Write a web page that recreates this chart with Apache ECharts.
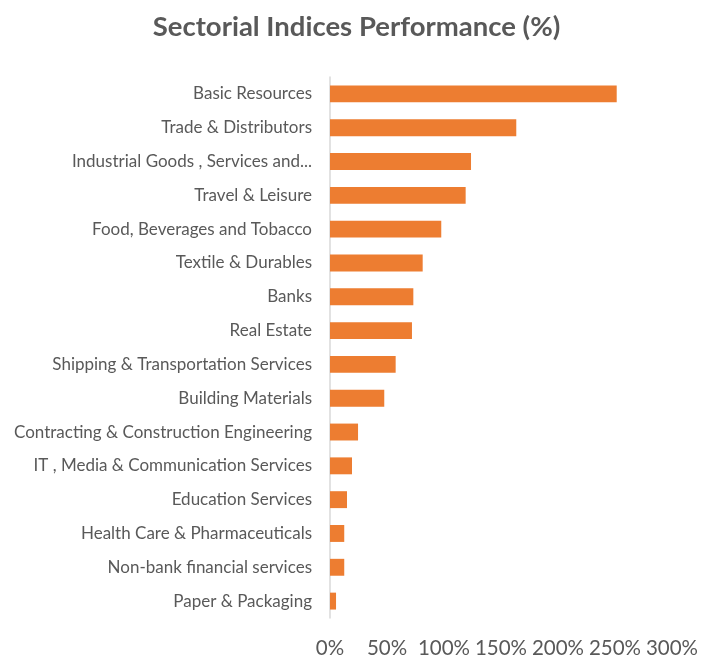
<!DOCTYPE html>
<html>
<head>
<meta charset="utf-8">
<script src="https://cdn.jsdelivr.net/npm/echarts@6/dist/echarts.min.js"></script>
<style>
  html, body { margin: 0; padding: 0; background: #ffffff; }
  #chart { width: 713px; height: 659px; }
</style>
</head>
<body>
<div id="chart"></div>
<script>
// Sector names, top to bottom
const sectors = [
  'Basic Resources',
  'Trade & Distributors',
  'Industrial Goods , Services and...',
  'Travel & Leisure',
  'Food, Beverages and Tobacco',
  'Textile & Durables',
  'Banks',
  'Real Estate',
  'Shipping & Transportation Services',
  'Building Materials',
  'Contracting & Construction Engineering',
  'IT , Media & Communication Services',
  'Education Services',
  'Health Care & Pharmaceuticals',
  'Non-bank financial services',
  'Paper & Packaging'
];

// Performance of each sector, percent
const performance = [251.5, 163.4, 123.7, 119.0, 97.6, 81.3, 73.1, 71.9, 57.6, 47.6, 24.6, 19.3, 14.9, 12.5, 12.5, 5.3];

// Value axis ticks (percent)
const axisMin = 0;
const axisMax = 300;
const axisStep = 50;

const chart = echarts.init(document.getElementById('chart'), null, { renderer: 'canvas' });

chart.setOption({
  animation: false,
  backgroundColor: '#ffffff',
  title: {
    text: 'Sectorial Indices Performance (%)',
    left: 'center',
    top: 8,
    textStyle: {
      fontFamily: 'Lato',
      fontWeight: 'bold',
      fontSize: 27.5,
      color: '#595959'
    }
  },
  grid: {
    left: 330,
    right: 41,
    top: 77,
    bottom: 39,
    containLabel: false
  },
  xAxis: {
    type: 'value',
    min: axisMin,
    max: axisMax,
    interval: axisStep,
    axisLine: { show: false },
    axisTick: { show: false },
    splitLine: { show: false },
    axisLabel: {
      formatter: '{value}%',
      margin: 20,
      fontFamily: 'Lato',
      fontSize: 20.5,
      color: '#595959'
    }
  },
  yAxis: {
    type: 'category',
    data: sectors,
    inverse: true,
    axisLine: { show: true, lineStyle: { color: '#d9d9d9', width: 1.5 } },
    axisTick: { show: false },
    axisLabel: {
      margin: 18,
      fontFamily: 'Lato',
      fontSize: 17,
      color: '#595959'
    }
  },
  series: [{
    type: 'bar',
    data: performance,
    barCategoryGap: '50%',
    itemStyle: { color: '#ed7d31' }
  }]
});
</script>
</body>
</html>
